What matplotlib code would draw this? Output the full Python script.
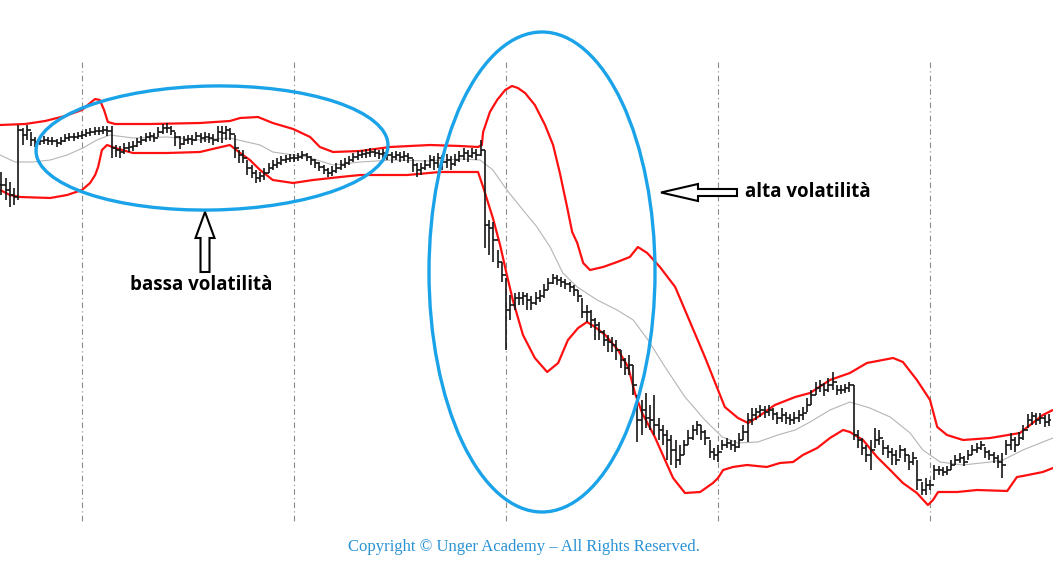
import numpy as np
import matplotlib.pyplot as plt
from matplotlib.patches import Ellipse, FancyArrow

close = [185, 190, 195, 197, 130, 135, 130, 140, 142, 141,
         140, 141, 141, 143, 141, 138, 137, 137, 136, 135,
         133, 132, 131, 131, 130, 131, 148, 150, 152, 148,
         147, 146, 142, 140, 137, 136, 138, 132, 128, 128,
         131, 137, 144, 140, 139, 140, 136, 138, 137, 138,
         140, 132, 133, 130, 134, 148, 155, 158, 168, 173,
         178, 176, 173, 168, 165, 163, 160, 159, 158, 158,
         157, 155, 157, 160, 163, 167, 170, 173, 171, 168,
         165, 163, 160, 157, 155, 154, 153, 152, 153, 154,
         153, 155, 157, 155, 157, 156, 158, 165, 170, 168,
         165, 160, 163, 158, 162, 160, 164, 160, 156, 153,
         156, 153, 155, 150, 225, 228, 240, 262, 275, 310,
         305, 298, 298, 296, 300, 303, 298, 296, 290, 283,
         278, 280, 282, 284, 287, 290, 296, 312, 312, 320,
         325, 332, 340, 342, 345, 350, 360, 368, 365, 385,
         420, 410, 418, 420, 425, 430, 435, 440, 450, 460,
         455, 445, 438, 430, 425, 432, 438, 452, 455, 452,
         445, 443, 445, 447, 440, 432, 420, 415, 412, 410,
         412, 410, 414, 418, 415, 418, 420, 418, 415, 413,
         405, 395, 388, 385, 390, 385, 382, 390, 390, 388,
         385, 435, 440, 448, 455, 450, 440, 438, 448, 452,
         455, 460, 450, 455, 462, 458, 480, 490, 485, 485,
         470, 470, 472, 470, 465, 460, 458, 462, 455, 450,
         448, 445, 452, 455, 458, 462, 465, 445, 440, 445,
         438, 430, 420, 416, 420, 418, 422, 420]
high = [172, 178, 182, 188, 125, 128, 125, 132, 137, 137,
        136, 137, 137, 139, 137, 134, 133, 133, 132, 131,
        129, 128, 127, 127, 126, 126, 126, 145, 146, 143,
        142, 141, 138, 136, 133, 132, 133, 127, 124, 123,
        126, 132, 136, 136, 135, 135, 132, 133, 132, 133,
        134, 126, 126, 126, 128, 135, 150, 150, 160, 165,
        170, 172, 168, 163, 160, 158, 156, 155, 154, 154,
        153, 151, 153, 156, 159, 162, 165, 168, 166, 163,
        160, 158, 156, 153, 151, 150, 149, 148, 149, 150,
        149, 151, 152, 151, 152, 151, 153, 159, 163, 163,
        160, 155, 156, 153, 155, 154, 156, 154, 151, 148,
        150, 148, 149, 140, 150, 220, 222, 250, 262, 278,
        295, 293, 292, 292, 293, 296, 292, 290, 284, 278,
        274, 275, 277, 279, 282, 285, 290, 298, 305, 310,
        318, 322, 330, 335, 337, 340, 350, 358, 355, 365,
        395, 400, 393, 405, 395, 418, 425, 430, 435, 440,
        445, 440, 430, 425, 421, 425, 430, 440, 448, 445,
        440, 438, 440, 440, 433, 425, 413, 408, 408, 405,
        406, 405, 408, 412, 408, 412, 414, 412, 410, 407,
        398, 390, 382, 380, 383, 378, 372, 385, 385, 384,
        382, 385, 430, 438, 445, 440, 428, 430, 440, 445,
        448, 450, 445, 448, 455, 452, 460, 482, 478, 480,
        465, 466, 467, 466, 460, 455, 453, 456, 450, 445,
        443, 441, 447, 450, 452, 455, 453, 440, 433, 437,
        432, 425, 414, 412, 413, 413, 415, 414]
low = [195, 200, 207, 205, 200, 145, 140, 146, 147, 145,
       144, 145, 145, 147, 145, 142, 141, 141, 139, 139,
       137, 136, 135, 135, 134, 136, 158, 157, 158, 154,
       152, 151, 147, 145, 142, 141, 142, 137, 134, 133,
       135, 146, 149, 145, 144, 145, 141, 143, 142, 143,
       145, 142, 143, 140, 140, 158, 163, 163, 175, 178,
       183, 182, 180, 173, 170, 168, 165, 163, 162, 162,
       161, 159, 161, 165, 168, 171, 174, 177, 176, 173,
       170, 168, 165, 162, 160, 158, 158, 157, 157, 159,
       158, 160, 163, 160, 162, 161, 163, 172, 177, 175,
       170, 168, 170, 168, 170, 168, 170, 166, 162, 160,
       162, 158, 160, 156, 248, 255, 262, 268, 282, 350,
       320, 310, 305, 305, 310, 310, 305, 302, 298, 290,
       284, 285, 287, 289, 292, 296, 302, 318, 322, 328,
       340, 340, 346, 352, 352, 360, 368, 375, 375, 395,
       442, 435, 428, 430, 435, 440, 445, 460, 465, 468,
       465, 455, 445, 440, 435, 440, 445, 458, 460, 462,
       450, 448, 450, 452, 448, 440, 442, 425, 420, 417,
       418, 416, 420, 424, 422, 424, 425, 424, 422, 420,
       412, 405, 395, 392, 396, 392, 390, 395, 394, 393,
       392, 440, 448, 455, 462, 470, 448, 445, 455, 458,
       465, 465, 458, 462, 470, 465, 490, 495, 495, 490,
       480, 475, 476, 475, 470, 465, 463, 466, 460, 455,
       453, 450, 458, 460, 463, 468, 478, 455, 450, 452,
       445, 440, 428, 425, 425, 424, 427, 426]

# Bollinger bands (bar index, level)
upper_t = [-0.3, 5.6, 10.3, 15.0, 19.0, 20.9, 22.1, 23.2, 24.2, 25.1, 26.8, 35.0, 46.8, 53.9,
           56.3, 60.5, 64.0, 68.8, 72.8, 75.1, 78.2, 84.6, 91.6, 101.1, 108.1, 112.4, 113.3,
           113.6, 115.2, 116.9, 118.8, 120.4, 121.8, 123.5, 125.8, 128.2, 130.1, 131.7, 133.4,
           134.6, 135.8, 137.2, 138.8, 141.9, 145.2, 148.2, 150.1, 152.3, 155.3, 158.9, 162.9,
           165.9, 169.0, 170.6, 173.7, 176.1, 178.4, 182.4, 187.2, 190.7, 195.4, 200.1, 204.1,
           210.3, 212.6, 215.9, 219.0, 220.7, 223.0, 226.8, 233.2, 240.2, 242.6, 245.6, 248.0]
upper = [125, 124, 121, 116, 110, 103, 99, 100, 110, 122, 124, 124, 123, 121,
         118, 117, 123, 129, 137, 147, 152, 151, 147, 145, 146, 147, 145,
         132, 112, 100, 90, 86, 88, 93, 105, 125, 145, 173, 207,
         232, 243, 263, 270, 267, 262, 257, 247, 253, 267, 287, 327,
         357, 390, 407, 418, 423, 417, 405, 397, 393, 380, 373, 363,
         358, 362, 380, 400, 427, 435, 440, 438, 433, 425, 415, 410]

lower_t = [-0.3, 2.0, 4.4, 11.5, 15.5, 19.0, 20.9, 22.1, 22.8, 23.7, 24.9, 26.8, 31.0, 39.0,
           46.8, 50.8, 53.9, 56.3, 58.6, 61.0, 64.0, 68.8, 73.5, 79.9, 84.6, 95.7, 103.4,
           112.4, 113.6, 115.9, 117.6, 119.2, 120.6, 123.0, 125.8, 128.7, 131.3, 133.6, 136.0,
           138.1, 140.0, 142.4, 145.4, 147.8, 149.4, 151.1, 154.1, 156.5, 158.4, 161.2, 164.8,
           167.8, 169.0, 170.2, 172.5, 175.8, 180.5, 183.6, 186.7, 189.0, 192.4, 195.4, 198.5,
           200.1, 203.2, 206.5, 209.6, 212.6, 215.9, 218.5, 219.7, 220.9, 225.4, 230.1, 237.2,
           239.5, 240.9, 245.6, 248.0]
lower = [190, 195, 197, 198, 195, 190, 183, 175, 167, 150, 145, 148, 153, 153,
         152, 148, 145, 153, 160, 170, 180, 183, 180, 177, 175, 175, 172,
         172, 187, 218, 245, 275, 300, 335, 358, 372, 363, 340, 328,
         322, 327, 335, 350, 367, 393, 413, 437, 460, 478, 493, 492,
         483, 478, 470, 467, 465, 467, 463, 462, 455, 448, 438, 430,
         432, 440, 457, 470, 483, 493, 505, 500, 492, 492, 490, 491,
         477, 476, 472, 468]

middle_t = [-0.3, 3.2, 7.4, 11.5, 15.5, 19.2, 22.5, 25.6, 31.0, 39.0, 46.8, 53.9, 57.9, 61.0,
            64.0, 68.8, 72.1, 78.2, 84.6, 92.3, 100.4, 108.1, 112.9, 115.9, 119.2, 123.0, 126.3,
            129.4, 132.4, 135.8, 140.5, 145.2, 149.0, 152.5, 156.5, 161.2, 165.9, 170.0, 173.7,
            178.4, 183.1, 187.2, 190.7, 195.4, 200.1, 204.8, 209.6, 214.3, 217.3, 221.4, 226.8,
            233.2, 236.2, 240.9, 245.6, 248.0]
middle = [155, 162, 162, 160, 155, 148, 140, 135, 138, 137, 140, 138, 142, 145,
          152, 155, 157, 165, 162, 160, 161, 159, 160, 170, 190, 210, 227,
          247, 273, 287, 300, 310, 320, 340, 367, 397, 420, 437, 443,
          442, 435, 430, 422, 410, 402, 408, 417, 433, 450, 462, 465,
          462, 460, 450, 442, 438]

separators = [19, 69, 119, 169, 219]

n = len(close)
idx = np.arange(n)
opn = [close[0]] + close[:-1]

fig = plt.figure(figsize=(10.53, 5.86), dpi=100)
ax = fig.add_axes([0, 0, 1, 1])
ax.set_xlim(-0.34, 248.0)
ax.set_ylim(586, 0)
ax.axis('off')

ax.vlines(separators, 62, 522, colors='#8a8a8a', linestyles=(0, (5, 3, 1, 3)), lw=0.8)

ax.plot(middle_t, middle, color='#b5b5b5', lw=0.8)
ax.plot(upper_t, upper, color='#ff1010', lw=1.6)
ax.plot(lower_t, lower, color='#ff1010', lw=1.6)

# OHLC bars
ax.vlines(idx, high, low, colors='#151515', lw=1.2)
ax.hlines(opn, idx - 0.5, idx, colors='#151515', lw=1.2)
ax.hlines(close, idx, idx + 0.5, colors='#151515', lw=1.2)

# annotation layer in pixel units
ov = fig.add_axes([0, 0, 1, 1])
ov.set_xlim(0, 1053)
ov.set_ylim(586, 0)
ov.axis('off')
ov.patch.set_alpha(0)

blue = '#1aa3e8'
ov.add_patch(Ellipse((212, 148), 352, 124, angle=-1, fill=False, ec=blue, lw=2.4))
ov.add_patch(Ellipse((542, 272), 226, 480, angle=0, fill=False, ec=blue, lw=2.4))

ov.add_patch(FancyArrow(205, 272, 0, -60, width=9, head_width=19, head_length=26,
                        length_includes_head=True, fc='white', ec='black', lw=1.5))
ov.add_patch(FancyArrow(737, 192.5, -76, 0, width=7, head_width=17, head_length=37,
                        length_includes_head=True, fc='white', ec='black', lw=1.5))

ov.text(201, 285, 'bassa volatilità', ha='center', va='center', fontsize=13.5,
        fontweight='bold', family='Open Sans')
ov.text(745, 192, 'alta volatilità', ha='left', va='center', fontsize=13.5,
        fontweight='bold', family='Open Sans')
ov.text(524, 547, 'Copyright © Unger Academy – All Rights Reserved.', ha='center', va='center',
        fontsize=12, family='Liberation Serif', color='#2a93d5')

fig.savefig('out.png', dpi=100)
